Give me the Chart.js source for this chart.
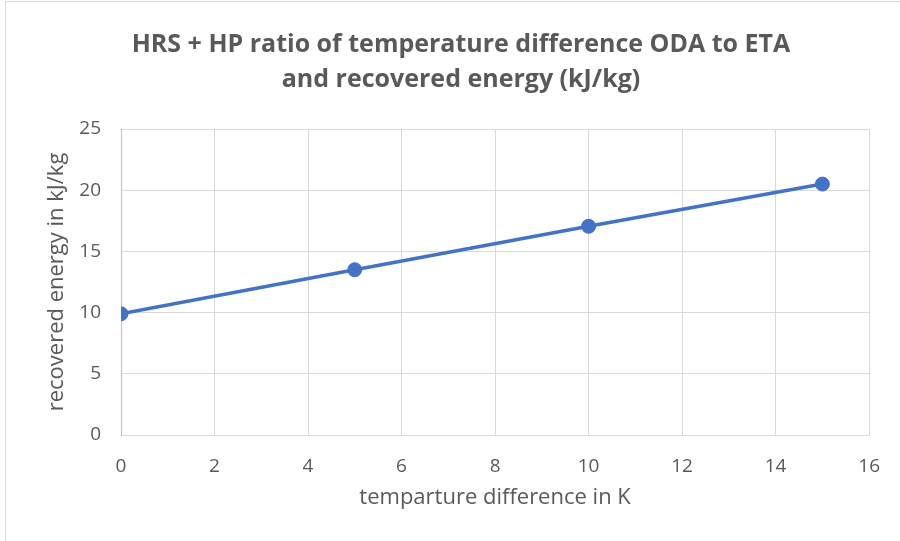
<!DOCTYPE html>
<html><head><meta charset="utf-8">
<script src="https://cdn.jsdelivr.net/npm/chart.js@4/dist/chart.umd.min.js"></script>
<style>
html,body{margin:0;padding:0;background:#fff;}
#wrap{position:absolute;left:0;top:0;width:900px;height:541px;}
#frame{position:absolute;left:5px;top:1px;width:900px;height:560px;border:1px solid #d9d9d9;box-sizing:border-box;pointer-events:none;}
</style></head>
<body>
<div id="wrap"><canvas id="c" width="900" height="541"></canvas></div>
<div id="frame"></div>
<script>
const xValues = [0, 5, 10, 15];
const yValues = [9.9, 13.5, 17.05, 20.5];
const xTicks = [0, 2, 4, 6, 8, 10, 12, 14, 16];
const yTicks = [0, 5, 10, 15, 20, 25];
const titleLines = ['HRS + HP ratio of temperature difference ODA to ETA', 'and recovered energy (kJ/kg)'];
const xTitle = 'temparture difference in K';
const yTitle = 'recovered energy in kJ/kg';

const FONT = "'Open Sans', Lato, sans-serif";
const points = xValues.map((x, i) => ({x: x, y: yValues[i]}));

// title centred on x = 461
const titlePos = {
  id: 'titlePos',
  afterLayout(chart) {
    const t = chart.titleBlock;
    if (t) { t.left = 22; t.right = 900; t.width = 878; }
  }
};

new Chart(document.getElementById('c'), {
  type: 'scatter',
  data: { datasets: [{
    data: points,
    showLine: true,
    borderColor: '#4472C4',
    backgroundColor: '#4472C4',
    borderWidth: 3.5,
    pointRadius: 7,
    pointBorderWidth: 1,
    pointHoverRadius: 7,
    tension: 0
  }]},
  plugins: [titlePos],
  options: {
    responsive: false,
    animation: false,
    devicePixelRatio: 1,
    layout: { padding: { left: 0, right: 20, top: 0, bottom: 0 } },
    plugins: {
      legend: { display: false },
      tooltip: { enabled: false },
      title: {
        display: true,
        text: titleLines,
        color: '#595959',
        font: { family: FONT, size: 25, weight: 'bold', lineHeight: 1.4 },
        padding: { top: 27, bottom: 32 }
      }
    },
    scales: {
      x: {
        type: 'linear', min: 0, max: 16,
        afterBuildTicks: s => { s.ticks = xTicks.map(v => ({value: v})); },
        afterFit: s => { s.height = 106; },
        grid: { color: '#d9d9d9', lineWidth: 1, drawTicks: false },
        border: { color: '#d9d9d9', width: 1 },
        ticks: { color: '#595959', font: { family: FONT, size: 19 }, padding: 20 },
        title: { display: true, text: xTitle, color: '#595959', font: { family: FONT, size: 22, lineHeight: 1.2 }, padding: { top: 0, bottom: 30 } }
      },
      y: {
        type: 'linear', min: 0, max: 25,
        afterBuildTicks: s => { s.ticks = yTicks.map(v => ({value: v})); },
        afterFit: s => { s.width = 121; },
        grid: { color: '#d9d9d9', lineWidth: 1, drawTicks: false },
        border: { color: '#bfbfbf', width: 1 },
        ticks: { color: '#595959', font: { family: FONT, size: 19 }, padding: 20 },
        title: { display: true, text: yTitle, color: '#595959', font: { family: FONT, size: 22, lineHeight: 1.2 }, padding: { top: 44, bottom: 0 } }
      }
    }
  }
});
</script>
</body></html>
